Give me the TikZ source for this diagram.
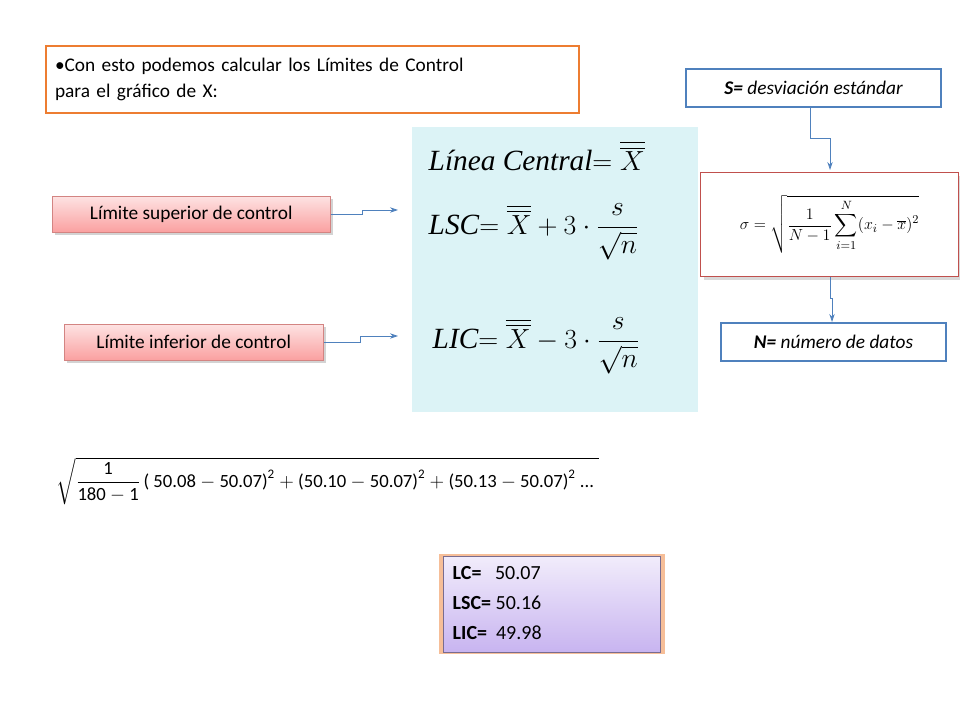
\documentclass[tikz,border=0pt]{standalone}
\usepackage{fontspec}
\usepackage{amsmath}
\setmainfont{Carlito}
\newfontfamily\frmfont{Liberation Serif}
\usetikzlibrary{shadows,arrows.meta}
\definecolor{orangeline}{RGB}{237,125,49}
\definecolor{blueline}{RGB}{79,129,189}
\definecolor{redline}{RGB}{192,80,77}
\definecolor{pinkfill}{RGB}{250,160,160}
\definecolor{cyanfill}{RGB}{220,243,246}
\definecolor{violetfill}{RGB}{200,180,240}
\tikzset{
  orangebox/.style={draw=orangeline, line width=1.5pt, fill=white},
  bluebox/.style={draw=blueline, line width=1.5pt, fill=white, inner sep=0pt},
  limbox/.style={draw=redline!70, top color=pinkfill!30, bottom color=pinkfill,
    drop shadow={opacity=.35}, inner sep=0pt, font=\fontsize{14.5}{17}\selectfont},
  link/.style={draw=blueline, -{Stealth[length=6pt,width=4pt]}, line width=.6pt},
}
\begin{document}
\begin{tikzpicture}[x=0.75pt,y=-0.75pt]
\useasboundingbox (0,0) rectangle (960,720);
% title box
\node[orangebox, minimum width=533*0.75pt, minimum height=67*0.75pt, anchor=north west,
  align=left, text width=515*0.75pt, font=\fontsize{14.5}{19}\selectfont] (title) at (45,45)
  {\raggedright\textbullet Con esto podemos calcular los Límites de Control\\para el gráfico de X:};
% formula panel
\fill[cyanfill] (412,127) rectangle (698,412);
\node[anchor=west, font=\fontsize{22}{24}\selectfont\frmfont\itshape] (lc) at (424,156)
  {Línea Central$=\overline{\overline{X}}$};
\node[anchor=west, font=\fontsize{22}{24}\selectfont] (lsc) at (424,232)
  {{\frmfont\itshape LSC}$=\overline{\overline{X}}+3\cdot\dfrac{s}{\sqrt{n}}$};
\node[anchor=west, font=\fontsize{22}{24}\selectfont] (lic) at (428,346)
  {{\frmfont\itshape LIC}$=\overline{\overline{X}}-3\cdot\dfrac{s}{\sqrt{n}}$};
% limit boxes
\node[limbox, minimum width=278*0.75pt, minimum height=36*0.75pt, anchor=north west]
  (sup) at (52,196) {Límite superior de control};
\node[limbox, minimum width=259*0.75pt, minimum height=36*0.75pt, anchor=north west]
  (inf) at (64,324) {Límite inferior de control};
\coordinate (supend) at (398,210);
\coordinate (infend) at (398,336);
\draw[link] (sup.east) -- ++(32,0) |- (supend);
\draw[link] (inf.east) -- ++(37,0) |- (infend);
% sigma box
\node[draw=redline, line width=.8pt, fill=white, minimum width=258*0.75pt,
  minimum height=104*0.75pt, anchor=north west, drop shadow={opacity=.3}] (sigma) at (700,172) {};
\node[font=\fontsize{13}{15}\selectfont] (sigmaf) at (sigma.center)
  {$\sigma=\sqrt{\dfrac{1}{N-1}\displaystyle\sum_{i=1}^{N}(x_i-\overline{x})^2}$};
% S and N boxes
\node[bluebox, minimum width=255*0.75pt, minimum height=38*0.75pt, anchor=north west,
  font=\fontsize{14.5}{17}\selectfont\itshape] (sbox) at (685,68)
  {\textbf{S=} desviación estándar};
\node[bluebox, minimum width=225*0.75pt, minimum height=38*0.75pt, anchor=north west,
  font=\fontsize{14.5}{17}\selectfont\itshape] (nbox) at (720,322)
  {\textbf{N=} número de datos};
\coordinate (sbend) at (830,138);
\draw[link] (sbox.south -| 810,0) -- (810,138) -- (sbend) -- (830,170);
\draw[link] (sigma.south -| 830,0) -- (830,298) -- (832,298) -- (nbox.north -| 832,0);
% long formula
\node[anchor=west, font=\fontsize{14}{17}\selectfont] (calc) at (52,481)
  {$\sqrt{\dfrac{\text{1}}{\text{180}-\text{1}}\,\text{( 50.08}-\text{50.07)}^{\text{2}}+\text{(50.10}-\text{50.07)}^{\text{2}}+\text{(50.13}-\text{50.07)}^{\text{2}}\ \text{...}\hspace{4pt}}$};
% results
\node[draw=violetfill!60!black, line width=.6pt, top color=violetfill!25, bottom color=violetfill,
  drop shadow={shadow xshift=0pt, shadow yshift=0pt, color=orangeline, opacity=.5, shadow scale=1.04},
  minimum width=217*0.75pt, minimum height=96*0.75pt, anchor=north west] (res) at (443,556) {};
\node[anchor=north west, align=left, font=\fontsize{15}{22.5}\selectfont] (restext) at (448,562)
  {\textbf{LC=}\ \ \ 50.07\\ \textbf{LSC=} 50.16\\ \textbf{LIC=}\ \ 49.98};
\end{tikzpicture}
\end{document}
